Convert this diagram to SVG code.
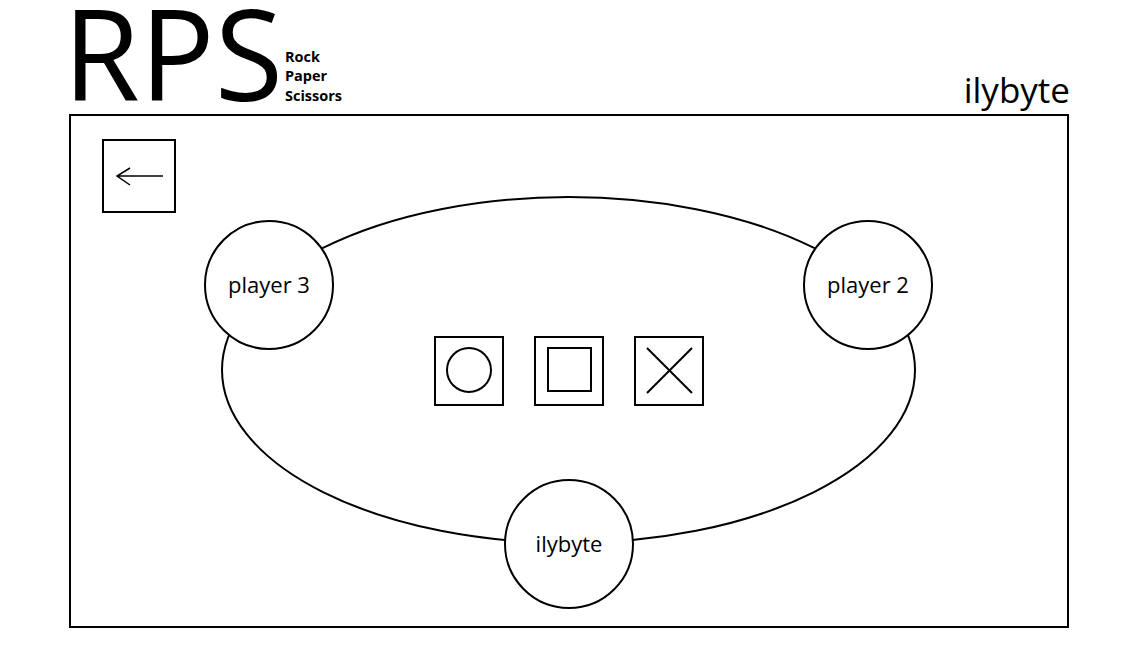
<svg xmlns="http://www.w3.org/2000/svg" width="1137" height="662" viewBox="0 0 1137 662">
<style>
.s{fill:none;stroke:#000;stroke-width:2}
.n{fill:#fff;stroke:#000;stroke-width:2}
.t{font-family:"Open Sans","Noto Sans",sans-serif;fill:#000}
.lbl{font-size:22px;text-anchor:middle}
.sub{font-size:14.5px;font-weight:bold}
</style>
<rect width="1137" height="662" fill="#fff"/>
<text class="t" x="63" y="101" font-size="126" textLength="220" lengthAdjust="spacingAndGlyphs">RPS</text>
<text class="t sub" x="285" y="62">Rock</text>
<text class="t sub" x="285" y="81">Paper</text>
<text class="t sub" x="285" y="101">Scissors</text>
<text class="t" x="1070" y="103" font-size="35" text-anchor="end">ilybyte</text>
<rect id="frame" class="s" x="70" y="115" width="998" height="512"/>
<g id="back">
<rect class="s" x="103" y="140" width="72" height="72"/>
<path d="M117 176H163M130 168L117 176L130 185" fill="none" stroke="#000" stroke-width="1.5"/>
</g>
<g id="connectors">
<ellipse class="s" cx="568.5" cy="370" rx="346.5" ry="173"/>
</g>
<g id="player3"><circle class="n" cx="269" cy="285" r="64"/><text class="t lbl" x="269" y="293">player 3</text></g>
<g id="player2"><circle class="n" cx="868" cy="285" r="64"/><text class="t lbl" x="868" y="293">player 2</text></g>
<g id="ilybyte"><circle class="n" cx="569" cy="544" r="64"/><text class="t lbl" x="569" y="552">ilybyte</text></g>
<g id="rock"><rect class="s" x="435" y="337" width="68" height="68"/><circle class="s" cx="469" cy="370" r="22"/></g>
<g id="paper"><rect class="s" x="535" y="337" width="68" height="68"/><rect class="s" x="548" y="348" width="43" height="43"/></g>
<g id="scissors"><rect class="s" x="635" y="337" width="68" height="68"/><path class="s" d="M647 348L692 393M692 348L647 393"/></g>
</svg>
